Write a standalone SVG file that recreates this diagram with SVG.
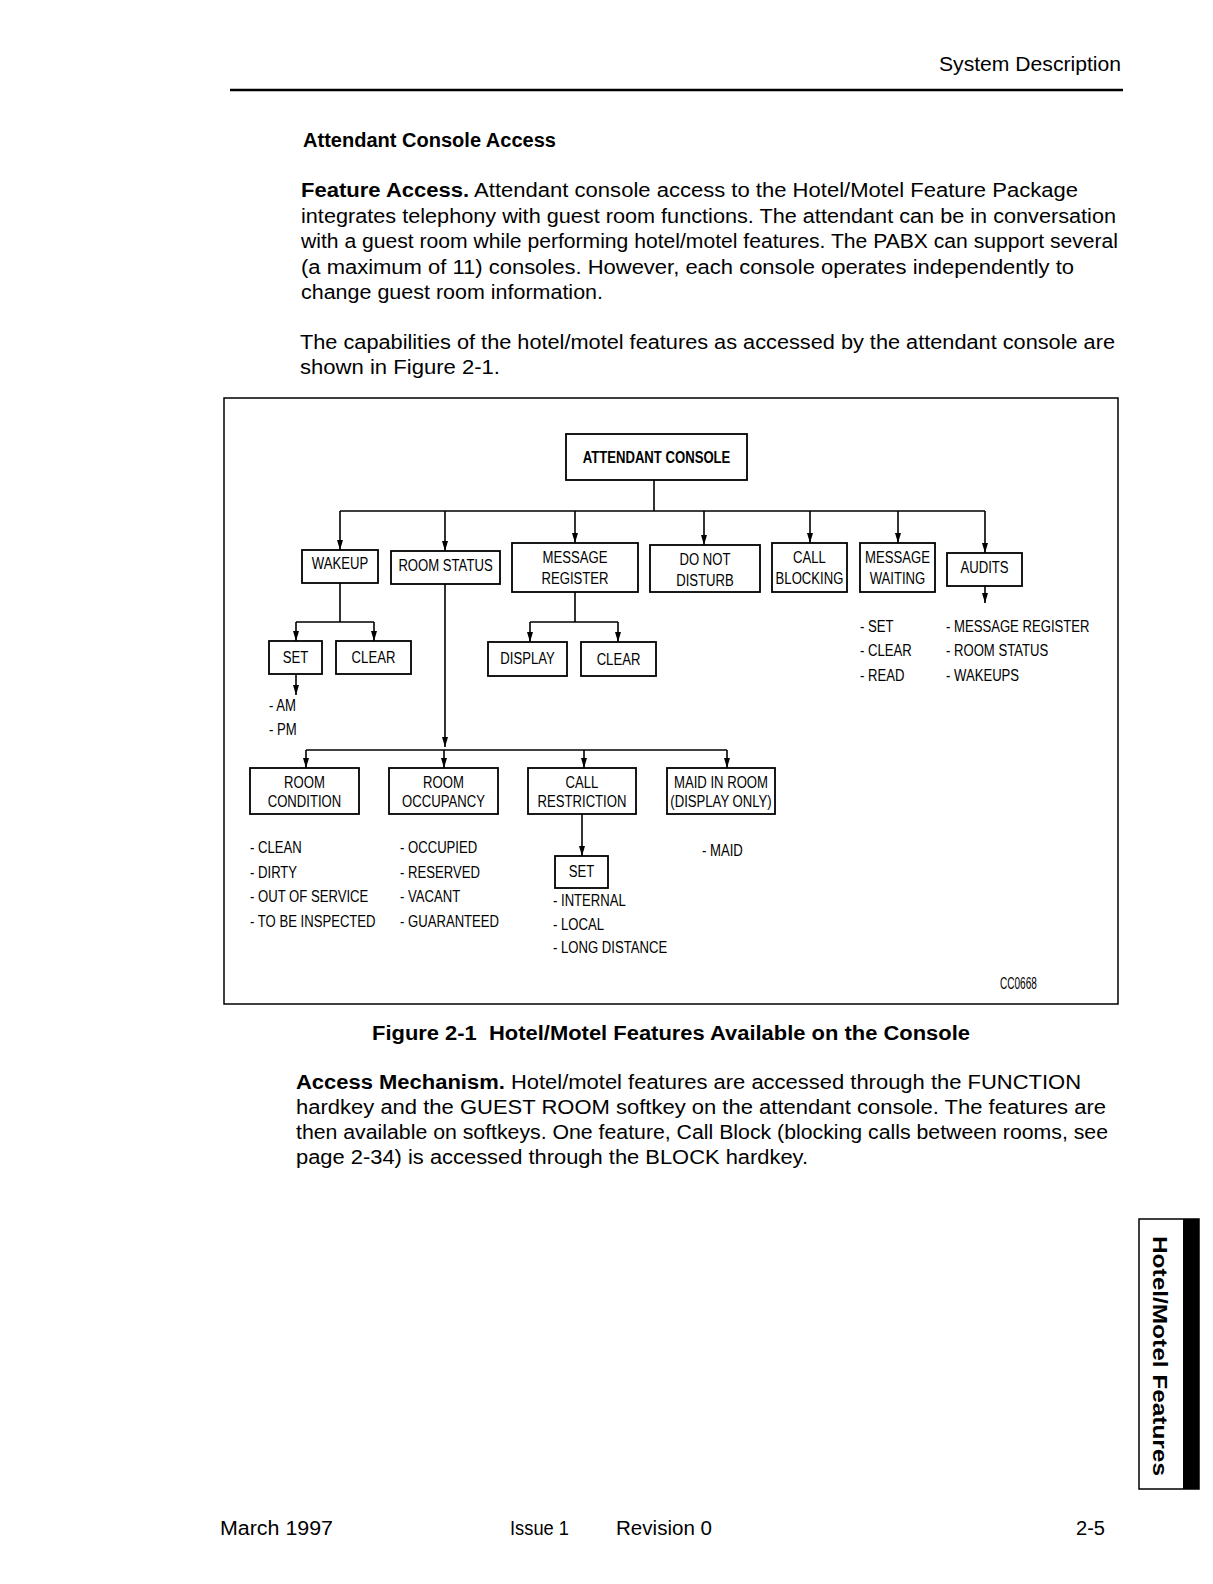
<svg xmlns="http://www.w3.org/2000/svg" width="1213" height="1584" viewBox="0 0 1213 1584">
<style>
.body{font-family:"Liberation Sans",Arial,sans-serif;font-size:20px;fill:#000}
.b{font-weight:bold}
.lbl{font-family:"Liberation Sans",Arial,sans-serif;font-size:16px;text-anchor:middle;fill:#000;transform-box:fill-box;transform-origin:50% 50%;transform:scaleX(0.82)}
.lst{font-family:"Liberation Sans",Arial,sans-serif;font-size:16px;fill:#000;transform-box:fill-box;transform-origin:0% 50%;transform:scaleX(0.82)}
.box{fill:#fff;stroke:#000;stroke-width:1.8}
.ln{stroke:#000;stroke-width:1.6;fill:none}
.ar{stroke:#000;stroke-width:1.6;fill:none;marker-end:url(#ah)}
</style>
<defs>
<marker id="ah" markerUnits="userSpaceOnUse" markerWidth="6" markerHeight="10" refX="3" refY="10" orient="0" viewBox="0 0 6 10">
<path d="M0,0 L6,0 L3,10 z" fill="#000"/>
</marker>
</defs>
<rect width="1213" height="1584" fill="#fff"/>

<!-- page header -->
<text class="body" x="939" y="71" textLength="182" lengthAdjust="spacingAndGlyphs">System Description</text>
<line x1="230" y1="90" x2="1123" y2="90" stroke="#000" stroke-width="2.5"/>

<text class="body b" x="303" y="147" font-size="19" textLength="253" lengthAdjust="spacingAndGlyphs">Attendant Console Access</text>

<text class="body" x="301" y="197" textLength="777" lengthAdjust="spacingAndGlyphs"><tspan class="b">Feature Access.</tspan> Attendant console access to the Hotel/Motel Feature Package</text>
<text class="body" x="301" y="223" textLength="815" lengthAdjust="spacingAndGlyphs">integrates telephony with guest room functions. The attendant can be in conversation</text>
<text class="body" x="301" y="248" textLength="817" lengthAdjust="spacingAndGlyphs">with a guest room while performing hotel/motel features. The PABX can support several</text>
<text class="body" x="301" y="274" textLength="773" lengthAdjust="spacingAndGlyphs">(a maximum of 11) consoles. However, each console operates independently to</text>
<text class="body" x="301" y="299" textLength="302" lengthAdjust="spacingAndGlyphs">change guest room information.</text>

<text class="body" x="300" y="349" textLength="815" lengthAdjust="spacingAndGlyphs">The capabilities of the hotel/motel features as accessed by the attendant console are</text>
<text class="body" x="300" y="374" textLength="200" lengthAdjust="spacingAndGlyphs">shown in Figure 2-1.</text>

<!-- figure frame -->
<rect x="224" y="398" width="894" height="606" fill="none" stroke="#000" stroke-width="1.5"/>

<!-- connectors -->
<g id="connectors">
<path class="ln" d="M654,480 V511 M340,511 H985"/>
<path class="ar" d="M340,511 V550"/>
<path class="ar" d="M445,511 V551"/>
<path class="ar" d="M575,511 V543"/>
<path class="ar" d="M704,511 V545"/>
<path class="ar" d="M810,511 V543"/>
<path class="ar" d="M898,511 V543"/>
<path class="ar" d="M985,511 V553"/>
<path class="ln" d="M340,583 V622 M296,622 H374"/>
<path class="ar" d="M296,622 V641"/>
<path class="ar" d="M374,622 V641"/>
<path class="ar" d="M296,674 V695"/>
<path class="ln" d="M575,592 V622 M530,622 H618"/>
<path class="ar" d="M530,622 V642"/>
<path class="ar" d="M618,622 V642"/>
<path class="ar" d="M985,586 V603"/>
<path class="ar" d="M445,584 V747"/>
<path class="ln" d="M306,750 H727"/>
<path class="ar" d="M306,750 V768"/>
<path class="ar" d="M444,750 V768"/>
<path class="ar" d="M584,750 V768"/>
<path class="ar" d="M727,750 V768"/>
<path class="ar" d="M582,814 V856"/>
</g>

<g id="attendant-console">
<rect class="box" x="566" y="434" width="181" height="46"/>
<text class="lbl b" x="656.5" y="463">ATTENDANT CONSOLE</text>
</g>
<g id="wakeup">
<rect class="box" x="302" y="550" width="76" height="33"/>
<text class="lbl" x="340" y="569">WAKEUP</text>
</g>
<g id="room-status">
<rect class="box" x="391" y="551" width="109" height="33"/>
<text class="lbl" x="445.5" y="571">ROOM STATUS</text>
</g>
<g id="message-register">
<rect class="box" x="512" y="543" width="126" height="49"/>
<text class="lbl" x="575" y="563">MESSAGE</text>
<text class="lbl" x="575" y="584">REGISTER</text>
</g>
<g id="do-not-disturb">
<rect class="box" x="650" y="545" width="110" height="47"/>
<text class="lbl" x="705" y="565">DO NOT</text>
<text class="lbl" x="705" y="586">DISTURB</text>
</g>
<g id="call-blocking">
<rect class="box" x="772" y="543" width="75" height="49"/>
<text class="lbl" x="809.5" y="563">CALL</text>
<text class="lbl" x="809.5" y="584">BLOCKING</text>
</g>
<g id="message-waiting">
<rect class="box" x="860" y="543" width="75" height="49"/>
<text class="lbl" x="897.5" y="563">MESSAGE</text>
<text class="lbl" x="897.5" y="584">WAITING</text>
</g>
<g id="audits">
<rect class="box" x="947" y="553" width="75" height="33"/>
<text class="lbl" x="984.5" y="573">AUDITS</text>
</g>
<g id="audits-list">
<text class="lst" x="860" y="632">- SET</text>
<text class="lst" x="860" y="656">- CLEAR</text>
<text class="lst" x="860" y="681">- READ</text>
<text class="lst" x="946" y="632">- MESSAGE REGISTER</text>
<text class="lst" x="946" y="656">- ROOM STATUS</text>
<text class="lst" x="946" y="681">- WAKEUPS</text>
</g>
<g id="wakeup-set">
<rect class="box" x="269" y="641" width="53" height="33"/>
<text class="lbl" x="295.5" y="663">SET</text>
</g>
<g id="wakeup-clear">
<rect class="box" x="336" y="641" width="75" height="33"/>
<text class="lbl" x="373.5" y="663">CLEAR</text>
</g>
<g id="ampm">
<text class="lst" x="269" y="711">- AM</text>
<text class="lst" x="269" y="735">- PM</text>
</g>
<g id="display">
<rect class="box" x="488" y="642" width="79" height="34"/>
<text class="lbl" x="527.5" y="664">DISPLAY</text>
</g>
<g id="msg-clear">
<rect class="box" x="581" y="642" width="75" height="34"/>
<text class="lbl" x="618.5" y="665">CLEAR</text>
</g>
<g id="room-condition">
<rect class="box" x="250" y="768" width="109" height="46"/>
<text class="lbl" x="304.5" y="788">ROOM</text>
<text class="lbl" x="304.5" y="807">CONDITION</text>
</g>
<g id="room-occupancy">
<rect class="box" x="389" y="768" width="109" height="46"/>
<text class="lbl" x="443.5" y="788">ROOM</text>
<text class="lbl" x="443.5" y="807">OCCUPANCY</text>
</g>
<g id="call-restriction">
<rect class="box" x="528" y="768" width="108" height="46"/>
<text class="lbl" x="582" y="788">CALL</text>
<text class="lbl" x="582" y="807">RESTRICTION</text>
</g>
<g id="maid-in-room">
<rect class="box" x="667" y="768" width="108" height="46"/>
<text class="lbl" x="721" y="788">MAID IN ROOM</text>
<text class="lbl" x="721" y="807">(DISPLAY ONLY)</text>
</g>
<g id="restriction-set">
<rect class="box" x="555" y="856" width="53" height="32"/>
<text class="lbl" x="581.5" y="877">SET</text>
</g>
<g id="condition-list">
<text class="lst" x="250" y="853">- CLEAN</text>
<text class="lst" x="250" y="878">- DIRTY</text>
<text class="lst" x="250" y="902">- OUT OF SERVICE</text>
<text class="lst" x="250" y="927">- TO BE INSPECTED</text>
</g>
<g id="occupancy-list">
<text class="lst" x="400" y="853">- OCCUPIED</text>
<text class="lst" x="400" y="878">- RESERVED</text>
<text class="lst" x="400" y="902">- VACANT</text>
<text class="lst" x="400" y="927">- GUARANTEED</text>
</g>
<g id="restriction-list">
<text class="lst" x="553" y="906">- INTERNAL</text>
<text class="lst" x="553" y="930">- LOCAL</text>
<text class="lst" x="553" y="953">- LONG DISTANCE</text>
</g>
<g id="maid-list">
<text class="lst" x="702" y="856">- MAID</text>
</g>
<text class="lst" x="1000" y="989" font-size="10" textLength="45" lengthAdjust="spacingAndGlyphs">CC0668</text>

<!-- caption -->
<text class="body b" x="372" y="1040" font-size="19" style="white-space:pre" textLength="598" lengthAdjust="spacingAndGlyphs">Figure 2-1  Hotel/Motel Features Available on the Console</text>

<text class="body" x="296" y="1089" textLength="785" lengthAdjust="spacingAndGlyphs"><tspan class="b">Access Mechanism.</tspan> Hotel/motel features are accessed through the FUNCTION</text>
<text class="body" x="296" y="1114" textLength="810" lengthAdjust="spacingAndGlyphs">hardkey and the GUEST ROOM softkey on the attendant console. The features are</text>
<text class="body" x="296" y="1139" textLength="812" lengthAdjust="spacingAndGlyphs">then available on softkeys. One feature, Call Block (blocking calls between rooms, see</text>
<text class="body" x="296" y="1164" textLength="512" lengthAdjust="spacingAndGlyphs">page 2-34) is accessed through the BLOCK hardkey.</text>

<!-- side tab -->
<g id="side-tab">
<rect x="1139" y="1219" width="60" height="270" fill="#fff" stroke="#000" stroke-width="1.5"/>
<rect x="1183" y="1219" width="16" height="270" fill="#000"/>
<text class="body b" font-size="19" text-anchor="middle" dominant-baseline="central" transform="translate(1160,1356) rotate(90)" textLength="240" lengthAdjust="spacingAndGlyphs">Hotel/Motel Features</text>
</g>

<!-- footer -->
<text class="body" x="220" y="1535" font-size="19" textLength="113" lengthAdjust="spacingAndGlyphs">March 1997</text>
<text class="body" x="510" y="1535" font-size="19" textLength="59" lengthAdjust="spacingAndGlyphs">Issue 1</text>
<text class="body" x="616" y="1535" font-size="19" textLength="96" lengthAdjust="spacingAndGlyphs">Revision 0</text>
<text class="body" x="1076" y="1535" font-size="19" textLength="29" lengthAdjust="spacingAndGlyphs">2-5</text>
</svg>
